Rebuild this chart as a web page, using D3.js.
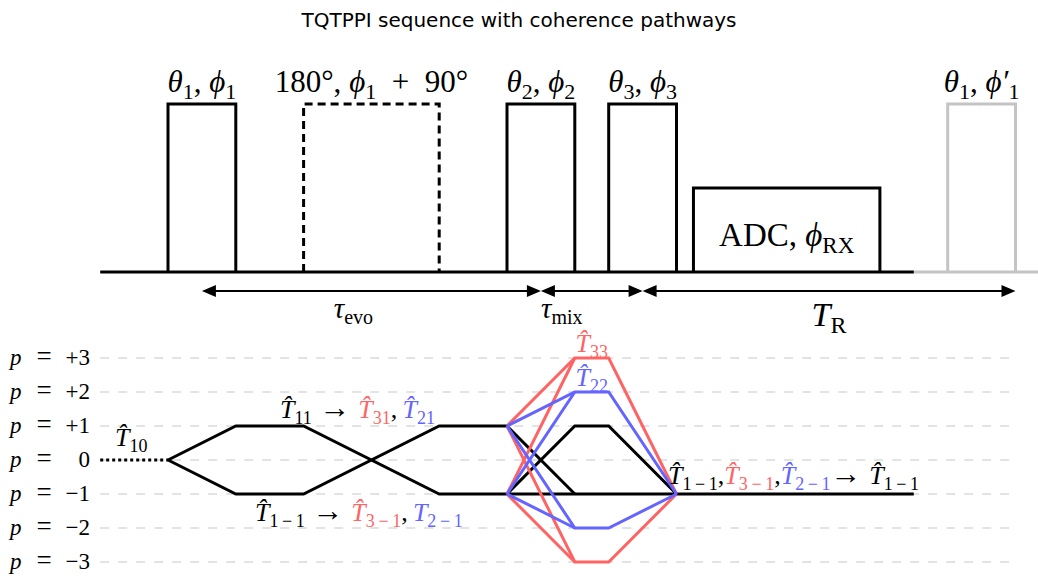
<!DOCTYPE html>
<html>
<head>
<meta charset="utf-8">
<script src="https://cdn.jsdelivr.net/npm/d3@7"></script>
<style>
  body { margin: 0; background: #fff; }
  text { font-family: "Liberation Serif", serif; }
</style>
</head>
<body>
<script>
// pulse blocks: start, end (time units), amplitude
const pulseStart = [0, 2, 5, 6.5, 7.75, 11.5];
const pulseEnd   = [1, 4, 6, 7.5, 10.5, 12.5];
const pulseAmp   = [1, 1, 1, 1, 0.5, 1];
const pulseKind  = ["rf", "refocus", "rf", "rf", "adc", "next"];
const pulseLabels = [
  [["θ","i"],["1","sub"],[", ",""],["ϕ","i"],["1","sub"]],
  [["180°, ",""],["ϕ","i"],["1","sub"],["\u2002+\u200290°",""]],
  [["θ","i"],["2","sub"],[", ",""],["ϕ","i"],["2","sub"]],
  [["θ","i"],["3","sub"],[", ",""],["ϕ","i"],["3","sub"]],
  [["ADC, ",""],["ϕ","i"],["RX","sub"]],
  [["θ","i"],["1","sub"],[", ",""],["ϕ′","i"],["1","sub"]]
];

// timing arrows
const spanFrom = [0.5, 5.5, 7];
const spanTo   = [5.5, 7, 12.5];
const spanLabels = [
  [["τ","i"],["evo","sub"]],
  [["τ","i"],["mix","sub"]],
  [["T","i"],["R","sub"]]
];

// coherence levels
const levels = [3, 2, 1, 0, -1, -2, -3];
const levelLabels = ["+3", "+2", "+1", "0", "−1", "−2", "−3"];

// pathways as [time, p]
const blackPaths = [
  [[0,0],[1,1],[2,1],[4,-1],[5,-1]],
  [[0,0],[1,-1],[2,-1],[4,1],[5,1]],
  [[5,1],[6,-1]],
  [[5,-1],[6,1],[6.5,1],[7.5,-1]],
  [[5,-1],[11,-1]]
];
const dottedPath = [[-1,0],[0,0]];
const redPaths = [
  [[5,1],[6,3],[6.5,3],[7.5,-1]],
  [[5,-1],[6,3]],
  [[5,1],[6,-3],[6.5,-3],[7.5,-1]],
  [[5,-1],[6,-3]]
];
const bluePaths = [
  [[5,1],[6,2],[6.5,2],[7.5,-1]],
  [[5,-1],[6,2]],
  [[5,1],[6,-2],[6.5,-2],[7.5,-1]],
  [[5,-1],[6,-2]]
];

const RED = "#ff6464", BLUE = "#6464ff", GRAY = "#c4c4c4";

const w = 1038, h = 579;
const svg = d3.select("body").append("svg").attr("width", w).attr("height", h);

const x = d3.scaleLinear().domain([0, 12.5]).range([168, 1015.5]);
const ya = d3.scaleLinear().domain([0, 1]).range([272, 104]);
const yp = d3.scaleLinear().domain([-3, 3]).range([562, 358]);

// math-ish text: italic / subscript / arrow runs, shift reset after each subscript
function rich(sel, parts, size) {
  let shift = 0;
  parts.forEach(function(p) {
    const t = sel.append("tspan").text(p[0]).attr("fill", p[2] || "#000");
    if (p[1] === "i") t.attr("font-style", "italic");
    if (p[1] === "arr") t.attr("font-size", Math.round(size * 1.2));
    const want = p[1] === "sub" ? Math.round(size * 0.22) : 0;
    if (want !== shift) { t.attr("dy", want - shift); shift = want; }
    if (p[1] === "sub") t.attr("font-size", Math.round(size * 0.7));
  });
  return sel;
}

// title
svg.append("text").attr("x", 519).attr("y", 27).attr("text-anchor", "middle")
  .style("font-family", "DejaVu Sans").attr("font-size", 20)
  .text("TQTPPI sequence with coherence pathways");

// baseline
svg.append("line").attr("x1", x(11)).attr("x2", x(13.5))
  .attr("y1", ya(0)).attr("y2", ya(0)).attr("stroke", GRAY).attr("stroke-width", 3);
svg.append("line").attr("x1", x(-1)).attr("x2", x(11))
  .attr("y1", ya(0)).attr("y2", ya(0)).attr("stroke", "#000").attr("stroke-width", 3);

// pulses
pulseStart.forEach(function(s, i) {
  const e = pulseEnd[i], a = pulseAmp[i], k = pulseKind[i];
  const pts = [[s,0],[s,a],[e,a],[e,0]];
  svg.append("path")
    .attr("d", d3.line().x(d => x(d[0])).y(d => ya(d[1]))(pts))
    .attr("fill", "none")
    .attr("stroke", k === "next" ? GRAY : "#000")
    .attr("stroke-width", 3)
    .attr("stroke-dasharray", k === "refocus" ? "8,5" : null);
  const fs = k === "adc" ? 33 : 31;
  const lab = svg.append("text").attr("font-size", fs).attr("text-anchor", "middle")
    .attr("x", x((s + e) / 2));
  if (k === "adc") lab.attr("y", ya(a / 2) + 16);
  else lab.attr("y", ya(a) - 12);
  rich(lab, pulseLabels[i], fs);
});

// timing arrows
const spanNudge = [-18, -30, 0];
spanFrom.forEach(function(f, i) {
  const x1 = x(f), x2 = x(spanTo[i]), yy = 291;
  svg.append("line").attr("x1", x1 + 4).attr("x2", x2 - 4).attr("y1", yy).attr("y2", yy)
    .attr("stroke", "#000").attr("stroke-width", 2);
  svg.append("path").attr("d", `M${x1},${yy} l14,-6 l0,12 z M${x2},${yy} l-14,-6 l0,12 z`)
    .attr("fill", "#000");
  const big = i === 2;
  const fs = big ? 34 : 29;
  const lab = svg.append("text").attr("x", (x1 + x2) / 2 + spanNudge[i])
    .attr("y", big ? 326 : 318).attr("text-anchor", "middle").attr("font-size", fs);
  rich(lab, spanLabels[i], fs);
});

// coherence grid
svg.selectAll("line.grid").data(levels).enter().append("line")
  .attr("class", "grid")
  .attr("x1", x(-1)).attr("x2", x(12.5))
  .attr("y1", d => yp(d)).attr("y2", d => yp(d))
  .attr("stroke", "#c8c8c8").attr("stroke-width", 1.2).attr("stroke-dasharray", "9,9");

svg.selectAll("text.plab").data(levels).enter().append("text")
  .attr("class", "plab").attr("x", 10).attr("y", d => yp(d) + 7)
  .attr("font-size", 23).attr("font-style", "italic").text("p");
svg.selectAll("text.peq").data(levels).enter().append("text")
  .attr("class", "peq").attr("x", 44).attr("y", d => yp(d) + 7)
  .attr("text-anchor", "middle").attr("font-size", 27).text("=");
svg.selectAll("text.pval").data(levels).enter().append("text")
  .attr("class", "pval").attr("x", 90).attr("y", d => yp(d) + 7)
  .attr("text-anchor", "end").attr("font-size", 23)
  .text((d, i) => levelLabels[i]);

// pathways
const pline = d3.line().x(d => x(d[0])).y(d => yp(d[1]));
svg.append("path").attr("d", pline(dottedPath)).attr("fill", "none")
  .attr("stroke", "#000").attr("stroke-width", 3).attr("stroke-dasharray", "3,3");
function drawPaths(list, col) {
  svg.append("g").selectAll("path").data(list).enter().append("path")
    .attr("d", pline).attr("fill", "none").attr("stroke", col)
    .attr("stroke-width", 3).attr("stroke-linejoin", "miter");
}
drawPaths(blackPaths, "#000");
drawPaths(redPaths, RED);
drawPaths(bluePaths, BLUE);

// tensor annotations
const H = "T\u0302";
const FS = 26;
const M1 = "1\u2009−\u20091", M3 = "3\u2009−\u20091", M2 = "2\u2009−\u20091";
function note(px, py, parts, anchor) {
  const t = svg.append("text").attr("x", px).attr("y", py).attr("font-size", FS)
    .attr("text-anchor", anchor || "start");
  rich(t, parts, FS);
}
note(115, 446, [[H,"i"],["10","sub"]]);
note(280, 418, [[H,"i"],["11","sub"],[" → ","arr"],[H,"i",RED],["31","sub",RED],[",\u2009",""],[H,"i",BLUE],["21","sub",BLUE]]);
note(255, 521, [[H,"i"],[M1,"sub"],[" → ","arr"],[H,"i",RED],[M3,"sub",RED],[",\u2009",""],["T","i",BLUE],[M2,"sub",BLUE]]);
note(x(6.25), 352, [[H,"i",RED],["33","sub",RED]], "middle");
note(x(6.25), 386, [[H,"i",BLUE],["22","sub",BLUE]], "middle");
note(668, 484, [[H,"i"],[M1,"sub"],[",",""],[H,"i",RED],[M3,"sub",RED],[",",""],[H,"i",BLUE],[M2,"sub",BLUE],["→ ","arr"],[H,"i"],[M1,"sub"]]);
</script>
</body>
</html>
